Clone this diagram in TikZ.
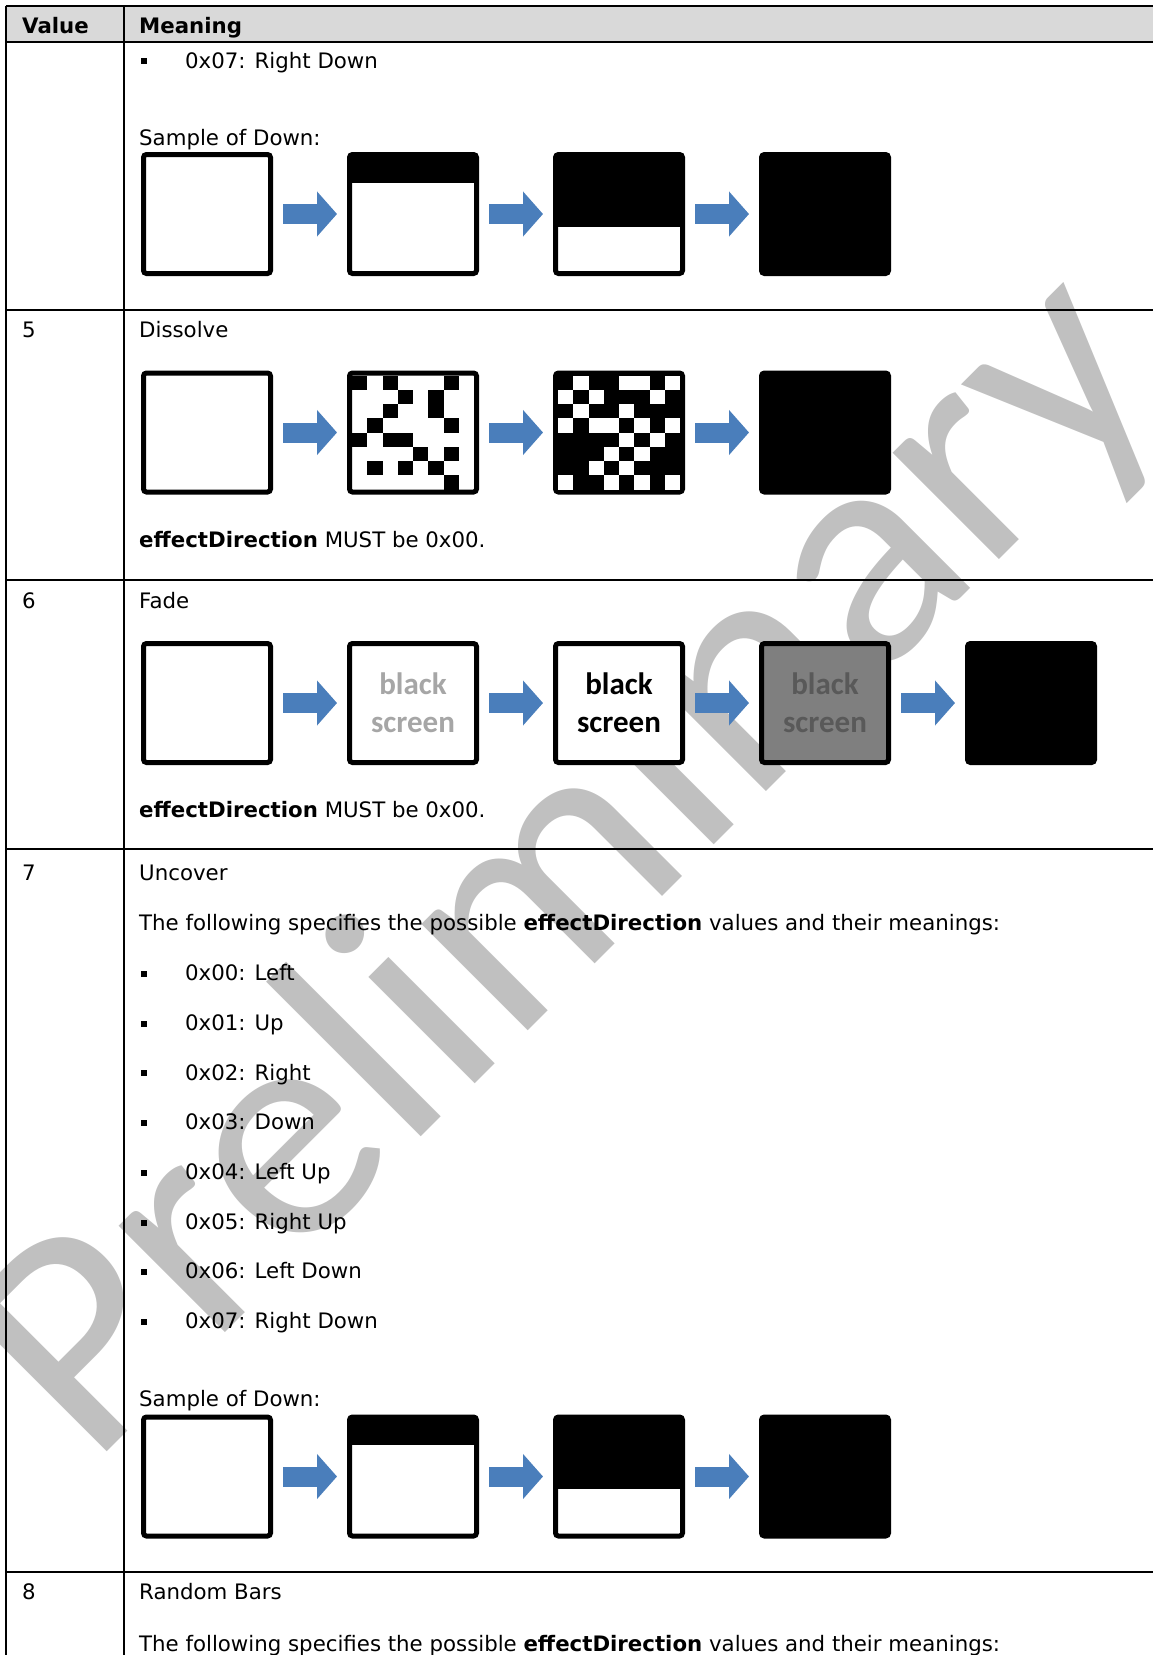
\documentclass[tikz,border=0pt]{standalone}
\usepackage{fontspec}
\setmainfont{DejaVu Sans}
\newfontfamily\wmfont{Carlito}
\usetikzlibrary{arrows.meta}
\definecolor{hdr}{HTML}{D9D9D9}
\definecolor{wm}{HTML}{C0C0C0}
\definecolor{arrowblue}{HTML}{4A7EBB}
\definecolor{fadelight}{HTML}{A6A6A6}
\definecolor{fadegray}{HTML}{7F7F7F}
\definecolor{fadedark}{HTML}{595959}
\begin{document}
\begin{tikzpicture}[x=1pt,y=-1pt,
  rule/.style={line width=2pt},
  txt/.style={anchor=base west, inner sep=0pt, font=\fontsize{21.3}{25}\selectfont},
  bul/.style={rectangle, fill=black, inner sep=0pt, minimum size=6pt},
  scrbox/.style={draw=black, line width=5pt, rounded corners=3pt, fill=white, inner sep=0pt, outer sep=0pt, minimum width=127pt, minimum height=119pt},
  flow/.style={draw=arrowblue, line width=20pt, -{Triangle[width=44pt,length=20pt]}, shorten <=12.5pt, shorten >=12.5pt},
  fadetxt/.style={font=\wmfont\bfseries\fontsize{31}{38}\selectfont, align=center}
]
\useasboundingbox (0,0) rectangle (1153,1655);
\clip (0,0) rectangle (1153,1655);
% watermark
\node[rotate=45, xscale=1.045, text=wm, inner sep=0pt, font=\wmfont\fontsize{315}{315}\selectfont] (wmark) at (572,868) {Preliminary};
% header
\fill[hdr] (5.5,6) rectangle (1153,42);
\draw[line width=1.5pt] (5.5,6) -- (1153,6);
\draw[line width=2.5pt] (5.5,42) -- (1153,42);
\foreach \yy in {310,580,849,1572} \draw[rule] (5.5,\yy) -- (1153,\yy);
\draw[rule] (5.5,6) -- (5.5,1655);
\draw[rule] (123.5,6) -- (123.5,1655);
\node[txt] (hval) at (22,33) {\bfseries Value};
\node[txt] (hmean) at (139,33) {\bfseries Meaning};
% row continuation
\node[bul] (b0) at (144,61) {};
\node[txt] (t0) at (185,68) {0x07: Right Down};
\node[txt] (s1) at (139,145) {Sample of Down:};
\node[scrbox] (a1) at (207,214) {};
\node[scrbox] (a2) at (413,214) {};
\node[scrbox] (a3) at (619,214) {};
\node[scrbox, fill=black] (a4) at (825,214) {};
\fill (a2.north west) rectangle ++(127,28);
\fill (a3.north west) rectangle ++(127,72);
\draw[flow] (a1.east) -- (a2.west);
\draw[flow] (a2.east) -- (a3.west);
\draw[flow] (a3.east) -- (a4.west);
% Dissolve
\node[txt] (v5) at (22,337) {5};
\node[txt] (m5) at (139,337) {Dissolve};
\node[scrbox] (d1) at (207,432.5) {};
\node[scrbox] (d2) at (413,432.5) {};
\node[scrbox, fill=black] (d3) at (619,432.5) {};
\node[scrbox, fill=black] (d4) at (825,432.5) {};
\foreach \c/\r in {0/0,2/0,6/0,3/1,5/1,5/2,2/2,1/3,6/3,0/4,2/4,3/4,4/5,6/5,1/6,3/6,5/6,6/7}
  \fill (d2.north west) ++(2.5+\c*15.25,2.5+\r*14.25) rectangle ++(15.25,14.25);
\foreach \c/\r in {1/0,4/0,5/0,7/0,0/1,2/1,6/1,1/2,4/2,0/3,2/3,3/3,5/3,7/3,4/4,6/4,3/5,5/5,2/6,4/6,0/7,3/7,5/7,7/7}
  \fill[white] (d3.north west) ++(2.5+\c*15.25,2.5+\r*14.25) rectangle ++(15.25,14.25);
\draw[flow] (d1.east) -- (d2.west);
\draw[flow] (d2.east) -- (d3.west);
\draw[flow] (d3.east) -- (d4.west);
\node[txt] (e5) at (139,547) {\textbf{effectDirection} MUST be 0x00.};
% Fade
\node[txt] (v6) at (22,608) {6};
\node[txt] (m6) at (139,608) {Fade};
\node[scrbox] (f1) at (207,703) {};
\node[scrbox, fadetxt, text=fadelight] (f2) at (413,703) {black\\screen};
\node[scrbox, fadetxt, text=black] (f3) at (619,703) {black\\screen};
\node[scrbox, fadetxt, fill=fadegray, text=fadedark] (f4) at (825,703) {black\\screen};
\node[scrbox, fill=black] (f5) at (1031,703) {};
\draw[flow] (f1.east) -- (f2.west);
\draw[flow] (f2.east) -- (f3.west);
\draw[flow] (f3.east) -- (f4.west);
\draw[flow] (f4.east) -- (f5.west);
\node[txt] (e6) at (139,817) {\textbf{effectDirection} MUST be 0x00.};
% Uncover
\node[txt] (v7) at (22,880) {7};
\node[txt] (m7) at (139,880) {Uncover};
\node[txt] (f7) at (139,930) {The following specifies the possible \textbf{effectDirection} values and their meanings:};
\foreach \k/\lab in {0/{0x00: Left},1/{0x01: Up},2/{0x02: Right},3/{0x03: Down},4/{0x04: Left Up},5/{0x05: Right Up},6/{0x06: Left Down},7/{0x07: Right Down}}{
  \node[bul] (ub\k) at (144,974+49.7*\k) {};
  \node[txt] (ut\k) at (185,980.7+49.7*\k) {\lab};
}
\node[txt] (s7) at (139,1406) {Sample of Down:};
\node[scrbox] (u1) at (207,1476.5) {};
\node[scrbox] (u2) at (413,1476.5) {};
\node[scrbox] (u3) at (619,1476.5) {};
\node[scrbox, fill=black] (u4) at (825,1476.5) {};
\fill (u2.north west) rectangle ++(127,28);
\fill (u3.north west) rectangle ++(127,72);
\draw[flow] (u1.east) -- (u2.west);
\draw[flow] (u2.east) -- (u3.west);
\draw[flow] (u3.east) -- (u4.west);
% Random Bars
\node[txt] (v8) at (22,1599) {8};
\node[txt] (m8) at (139,1599) {Random Bars};
\node[txt] (f8) at (139,1651) {The following specifies the possible \textbf{effectDirection} values and their meanings:};
\end{tikzpicture}
\end{document}
